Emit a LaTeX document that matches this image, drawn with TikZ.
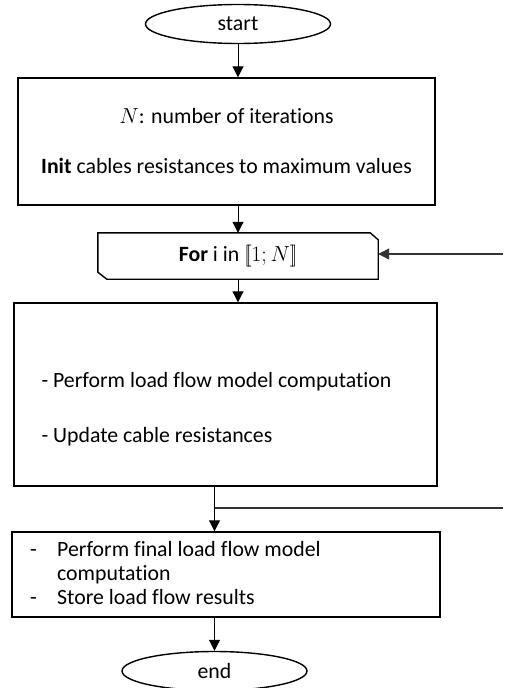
\RequirePackage{fix-cm}
\documentclass[tikz,border=0pt]{standalone}
\usepackage{fontspec}
\setmainfont{Carlito}[Ligatures={NoCommon}]
\usetikzlibrary{shapes.geometric,arrows.meta}

\begin{document}
\begin{tikzpicture}[x=1pt, y=-1pt, font=\fontsize{21.8}{24}\selectfont,
    box/.style={draw, line width=1.4pt, inner sep=0pt},
    terminal/.style={draw, ellipse, line width=1.4pt, minimum width=185pt, minimum height=39pt, inner sep=0pt},
    arr/.style={-{Triangle[length=11pt,width=11pt]}, line width=1pt},
    loopline/.style={line width=1.1pt, black!80}]
        \useasboundingbox (0,0) rectangle (504,688);

        % Start
        \node[terminal] (start) at (238,24) {start};

        % Init
        \node[box, minimum width=417pt, minimum height=127pt, align=center] (init) at (226.5,141.5) {$N$: number of iterations\\[26pt]\textbf{Init} cables resistances to maximum values};

        % For loop
        \node[minimum width=280pt, minimum height=46pt, inner sep=0pt] (for) at (238,256) {\textbf{For} i in $[\![1;N]\!]$};
        \draw[line width=1.4pt] (for.north west) -- ([xshift=-8pt]for.north east) -- ([yshift=-7pt]for.north east) -- (for.south east) -- ([xshift=9pt]for.south west) -- ([yshift=7pt]for.south west) -- cycle;

        % Loop body
        \node[box, minimum width=423pt, minimum height=183pt] (body) at (225.5,394.5) {};
        \node[anchor=west] (perf) at (38,382) {- Perform load flow model computation};
        \node[anchor=west] (upd) at (38,437) {- Update cable resistances};

        % Final
        \node[box, minimum width=428pt, minimum height=85pt] (final) at (226,574.5) {};
        \node[anchor=base west, inner sep=0pt] (fintxt) at (30,556) {\begin{tabular}[t]{@{}p{27pt}@{}l@{}}
            - & Perform final load flow model\\
              & computation\\
            - & Store load flow results
        \end{tabular}};

        % End
        \node[terminal] (stop) at (214.5,671) {end};

        % Arrows
        \draw[arr] (start) -- (start |- init.north);
        \draw[arr] (init.south -| for) -- (for.north);
        \draw[arr] (for.south) -- (for.south |- body.north);
        \draw[arr] (body.south -| stop) -- (final.north -| stop);
        \draw[arr] (final.south -| stop) -- (stop);

        % Loop back
        \coordinate (loopin) at (503,254);
        \coordinate (loopout) at (503,508);
        \draw[arr, loopline] (loopin) -- (for.east |- loopin);
        \draw[loopline] (loopout -| stop) -- (loopout);
    \end{tikzpicture}
\end{document}
